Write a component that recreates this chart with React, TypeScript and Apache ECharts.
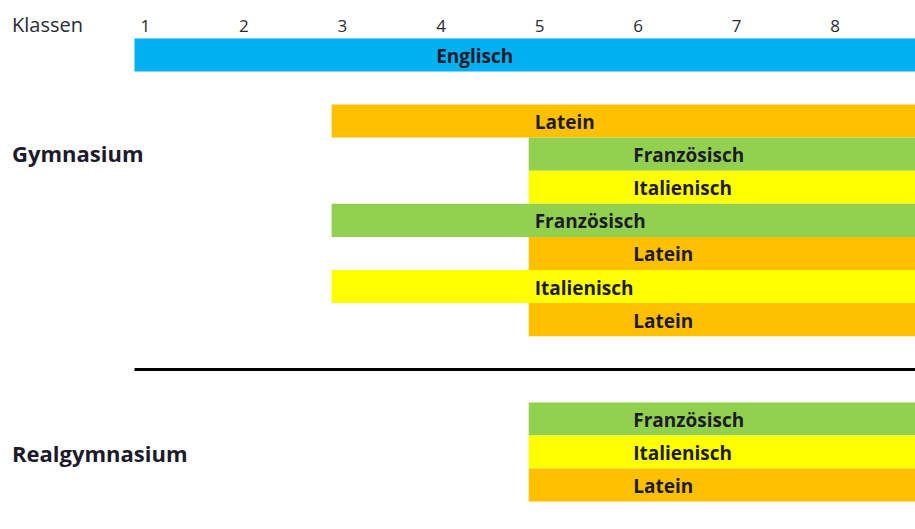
import React, { useEffect, useRef } from "react";
import * as echarts from "echarts";

// ---- data ----
const classLabels = ["1", "2", "3", "4", "5", "6", "7", "8"];
const axisTitle = "Klassen";
const groupNames = ["Gymnasium", "Realgymnasium"];
// one entry per coloured band
const bandSubjects = [
  "Englisch",
  "Latein",
  "Französisch",
  "Italienisch",
  "Französisch",
  "Latein",
  "Italienisch",
  "Latein",
  "Französisch",
  "Italienisch",
  "Latein",
];
const bandRows = [0, 2, 3, 4, 5, 6, 7, 8, 11, 12, 13];
const bandFromClass = [1, 3, 5, 5, 3, 5, 3, 5, 5, 5, 5];
const bandToClass = [8, 8, 8, 8, 8, 8, 8, 8, 8, 8, 8];
const bandLabelClass = [4, 5, 6, 6, 5, 6, 5, 6, 6, 6, 6];
const separatorRow = 10;
const totalRows = 14;
const visibleClassSpan = 7.92;

const subjectColors: Record<string, string> = {
  Englisch: "#00B0F0",
  Latein: "#FFC000",
  Französisch: "#92D050",
  Italienisch: "#FFFF00",
};

const FONT = "'Open Sans', 'Noto Sans', sans-serif";
const TEXT = "#1d1b2b";

export default function App() {
  const ref = useRef<HTMLDivElement>(null);
  useEffect(() => {
    document.body.style.margin = "0";
    if (!ref.current) return;
    const chart = echarts.init(ref.current, undefined, { renderer: "svg" });
    const data = bandSubjects.map((s, i) => [
      bandFromClass[i] - 1,
      bandToClass[i],
      bandRows[i],
      bandLabelClass[i] - 1,
      s,
    ]);
    chart.setOption({
      animation: false,
      backgroundColor: "#ffffff",
      grid: { left: 134.5, right: 0, top: 38.3, bottom: 27.3 },
      xAxis: {
        type: "value",
        position: "top",
        min: 0,
        max: visibleClassSpan,
        interval: 1,
        axisLine: { show: false },
        axisTick: { show: false },
        splitLine: { show: false },
        axisLabel: {
          align: "left",
          margin: 4,
          padding: [0, 0, 0, 6],
          fontFamily: FONT,
          fontSize: 17,
          color: "#2a2a33",
          showMaxLabel: false,
          formatter: (v: number) =>
            Number.isInteger(v) && v < classLabels.length ? classLabels[v] : "",
        },
      },
      yAxis: {
        type: "value",
        inverse: true,
        min: 0,
        max: totalRows,
        show: false,
      },
      graphic: [
        {
          type: "text",
          left: 12,
          top: 14,
          style: { text: axisTitle, font: `20px ${FONT}`, fill: "#2a2a33" },
        },
        {
          type: "text",
          left: 12,
          top: 142,
          style: { text: groupNames[0], font: `bold 22px ${FONT}`, fill: TEXT },
        },
        {
          type: "text",
          left: 12,
          top: 442,
          style: { text: groupNames[1], font: `bold 22px ${FONT}`, fill: TEXT },
        },
      ],
      series: [
        {
          type: "custom",
          clip: true,
          data,
          renderItem: (params: any, api: any) => {
            const x0 = api.value(0);
            const x1 = api.value(1);
            const r = api.value(2);
            const lx = api.value(3);
            const p0 = api.coord([x0, r]);
            const p1 = api.coord([x1, r + 1]);
            const pl = api.coord([lx, r + 0.5]);
            const name = bandSubjects[params.dataIndex];
            return {
              type: "group",
              children: [
                {
                  type: "rect",
                  shape: { x: p0[0], y: p0[1], width: p1[0] - p0[0], height: p1[1] - p0[1] },
                  style: { fill: subjectColors[name] },
                },
                {
                  type: "text",
                  x: pl[0] + 6,
                  y: pl[1] + 1,
                  style: {
                    text: name,
                    font: `bold 19px ${FONT}`,
                    fill: TEXT,
                    verticalAlign: "middle",
                    align: "left",
                  },
                },
              ],
            };
          },
          markLine: {
            silent: true,
            symbol: "none",
            label: { show: false },
            lineStyle: { color: "#000000", width: 3, type: "solid" },
            data: [
              [
                { coord: [0, separatorRow] },
                { coord: [visibleClassSpan, separatorRow] },
              ],
            ],
          },
        },
      ],
    });
    return () => chart.dispose();
  }, []);
  return <div ref={ref} style={{ width: 915, height: 529 }} />;
}
